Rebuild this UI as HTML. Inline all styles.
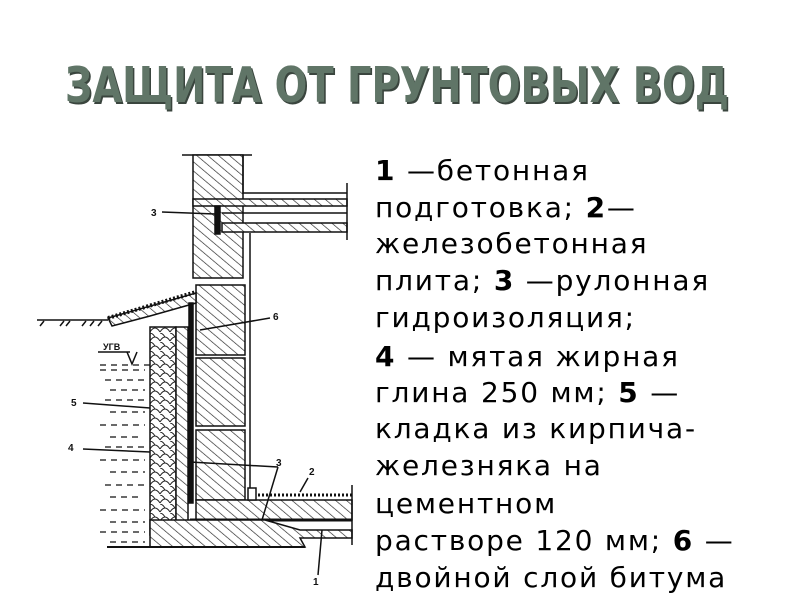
<!DOCTYPE html>
<html><head><meta charset="utf-8"><style>
html,body{margin:0;padding:0;background:#fff;}
body{width:800px;height:600px;position:relative;overflow:hidden;}
.title{position:absolute;left:65px;top:57px;width:1000px;font:bold 49px "DejaVu Sans","Liberation Sans",sans-serif;color:#607567;text-shadow:2px 2px 0 #3a453e;white-space:nowrap;transform-origin:0 0;transform:scaleX(0.785);}
.t{position:absolute;left:375px;font:28px "DejaVu Sans","Liberation Sans",sans-serif;letter-spacing:1.8px;color:#000;white-space:nowrap;line-height:30px;}
.t b{font-weight:bold;}
svg{position:absolute;left:0;top:0;}
</style></head><body>
<div class="title">ЗАЩИТА ОТ ГРУНТОВЫХ ВОД</div>
<div class="t" style="top:156px"><b>1</b> —бетонная</div>
<div class="t" style="top:193px">подготовка; <b>2</b>—</div>
<div class="t" style="top:229px">железобетонная</div>
<div class="t" style="top:266px">плита; <b>3</b> —рулонная</div>
<div class="t" style="top:303px">гидроизоляция;</div>
<div class="t" style="top:342px"><b>4</b> — мятая жирная</div>
<div class="t" style="top:378px">глина 250 мм; <b>5</b> —</div>
<div class="t" style="top:414px">кладка из кирпича-</div>
<div class="t" style="top:451px">железняка на</div>
<div class="t" style="top:489px">цементном</div>
<div class="t" style="top:526px">растворе 120 мм; <b>6</b> —</div>
<div class="t" style="top:563px">двойной слой битума</div>
<svg width="800" height="600" viewBox="0 0 800 600">
<defs>
<pattern id="h" width="7" height="7" patternUnits="userSpaceOnUse" patternTransform="rotate(-50)">
<rect width="7" height="7" fill="#fff"/><line x1="0" y1="0" x2="0" y2="7" stroke="#222" stroke-width="1.3"/></pattern>
<pattern id="c" width="10" height="9" patternUnits="userSpaceOnUse">
<rect width="10" height="9" fill="#fff"/><path d="M0 8 Q5 0 10 8 M-5 4 Q0 -4 5 4" fill="none" stroke="#222" stroke-width="1"/></pattern>
</defs>
<g stroke="#111" stroke-width="1.5" fill="none">
<line x1="182" y1="155" x2="252" y2="155"/>
<rect x="193" y="155" width="50" height="123" fill="url(#h)"/>
<polyline points="243,155 243,193 347,193"/>
<rect x="193" y="199" width="154" height="7" fill="url(#h)"/>
<rect x="222" y="223" width="125" height="9" fill="url(#h)"/>
<line x1="222" y1="213" x2="347" y2="213"/>
<line x1="347" y1="183" x2="347" y2="240"/>
<rect x="215" y="206" width="5" height="28" fill="#111"/>
<line x1="250" y1="233" x2="250" y2="500"/>
<rect x="196" y="285" width="49" height="70" fill="url(#h)"/>
<rect x="196" y="358" width="49" height="68" fill="url(#h)"/>
<rect x="196" y="430" width="49" height="70" fill="url(#h)"/>
<line x1="37" y1="320" x2="108" y2="320"/>
<path d="M40 326l4-5M60 326l4-5M66 326l4-5M82 326l4-5M90 326l4-5M98 326l4-5" />
<polygon points="108,318 196,293 196,303 150,316 112,326" fill="url(#h)"/>
<polyline points="108,318 196,292" stroke-dasharray="2 2" stroke-width="4"/>
<rect x="150" y="327" width="26" height="208" fill="url(#c)"/>
<rect x="176" y="327" width="12" height="195" fill="url(#h)"/>
<rect x="189" y="303" width="4" height="200" fill="#111"/>
<rect x="196" y="500" width="156" height="20" fill="url(#h)"/>
<line x1="250" y1="495" x2="352" y2="495" stroke-dasharray="2 2" stroke-width="3"/>
<rect x="248" y="488" width="8" height="12" fill="#fff"/>
<line x1="190" y1="520" x2="352" y2="520" stroke-width="3"/>
<polygon points="150,520 265,520 300,530 352,530 352,538 300,538 305,547 150,547" fill="url(#h)"/>
<line x1="107" y1="547" x2="305" y2="547" stroke-width="2"/>
<line x1="352" y1="485" x2="352" y2="545"/>
<path d="M100 365h50 M100 370h45 M105 380h40 M110 390h35 M105 400h40 M110 412h35 M100 425h45 M110 437h30 M105 447h40 M100 460h45 M110 472h35 M105 485h40 M110 497h30 M100 510h45 M110 522h35 M100 532h45 M110 542h35" stroke-dasharray="6 5" stroke-width="1.3"/>
<line x1="98" y1="352" x2="130" y2="352"/>
<path d="M127 352l5 12 5-12"/>
<path d="M162 212L215 214 M270 318L200 330 M83 403L150 408 M83 449L150 452 M278 467L190 462 M278 467L262 520 M308 478L300 492 M318 575L322 530"/>
</g>
<g font-family="Liberation Sans,sans-serif" font-size="10" font-weight="bold" fill="#111">
<text x="151" y="216">3</text><text x="273" y="320">6</text>
<text x="71" y="406">5</text><text x="68" y="451">4</text>
<text x="276" y="466">3</text><text x="309" y="475">2</text>
<text x="313" y="585">1</text><text x="103" y="350" font-size="9">УГВ</text>
</g>
</svg>
</body></html>
